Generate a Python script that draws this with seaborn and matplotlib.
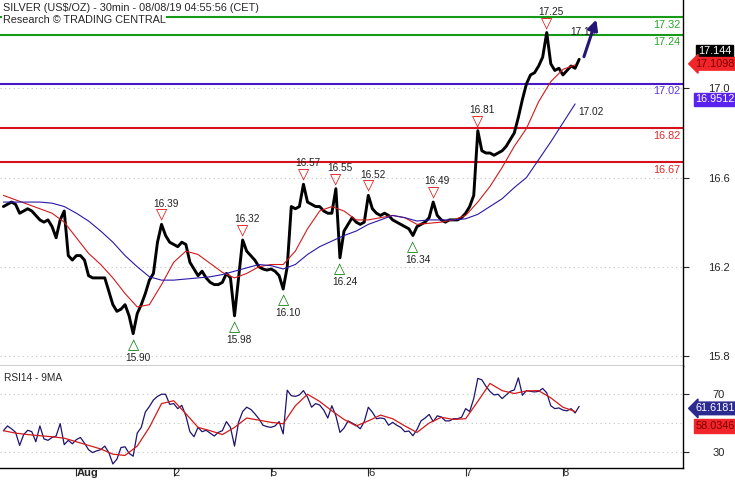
import numpy as np
import matplotlib.pyplot as plt
import seaborn as sns

sns.set_style("white")
plt.rcParams['font.family'] = ['Liberation Sans', 'DejaVu Sans']

# =====================================================
# DATA (30min silver)
# =====================================================
# closes, one value per hour (x in trading days, Aug 1 = 0)
close = [16.47, 16.48, 16.49, 16.48, 16.44, 16.45, 16.46, 16.45, 16.43, 16.41,
         16.40, 16.41, 16.38, 16.33, 16.41, 16.45, 16.25, 16.23, 16.25, 16.25,
         16.23, 16.16, 16.15, 16.15, 16.15, 16.15, 16.09, 16.03, 16.00, 16.01,
         16.03, 15.98, 15.90, 15.99, 16.03, 16.08, 16.14, 16.17, 16.31, 16.39,
         16.34, 16.31, 16.30, 16.29, 16.31, 16.30, 16.22, 16.19, 16.16, 16.18,
         16.15, 16.13, 16.12, 16.12, 16.13, 16.17, 16.15, 15.98, 16.15, 16.32,
         16.27, 16.25, 16.23, 16.20, 16.19, 16.185, 16.19, 16.18, 16.16, 16.10,
         16.20, 16.47, 16.46, 16.47, 16.57, 16.49, 16.48, 16.47, 16.47, 16.45,
         16.44, 16.44, 16.55, 16.24, 16.36, 16.39, 16.42, 16.40, 16.39, 16.40,
         16.52, 16.46, 16.44, 16.43, 16.44, 16.43, 16.41, 16.40, 16.39, 16.38,
         16.37, 16.34, 16.38, 16.39, 16.40, 16.42, 16.49, 16.43, 16.41, 16.40,
         16.41, 16.41, 16.41, 16.42, 16.44, 16.47, 16.52, 16.81, 16.72, 16.71,
         16.71, 16.70, 16.71, 16.72, 16.74, 16.77, 16.80, 16.87, 16.95, 17.02,
         17.06, 17.07, 17.10, 17.14, 17.25, 17.11, 17.08, 17.09, 17.06, 17.08,
         17.10, 17.09, 17.13]

rsi = [44.7, 48, 46, 43.6, 34.5, 42, 45, 44, 37, 48,
       39, 38, 40, 41, 49.6, 35, 38, 35.6, 38.5, 40,
       36, 31.5, 29.5, 30.7, 31.5, 34, 29.5, 21.6, 25, 33,
       33.5, 29, 27, 43, 47, 57.6, 61.5, 66, 68.5, 70,
       70, 63, 63.5, 60, 62.3, 55, 44, 40.5, 47, 44,
       45, 43, 41, 43.5, 44.7, 51, 47, 34, 50.6, 58,
       61, 59.5, 56.5, 53, 48.5, 47.5, 47, 48, 51, 42.5,
       72.8, 69, 68.5, 69.5, 72.5, 68, 61, 63.5, 62.5, 59,
       53.5, 62, 55, 43.5, 46.5, 51.5, 50, 48.5, 46, 51,
       61, 57.5, 53, 53.5, 53, 48.5, 50.5, 48.5, 47, 44,
       44.5, 41.2, 45.5, 51.5, 53.5, 56, 51, 55, 54.2, 51.5,
       51.5, 53, 53, 54, 60, 58, 67, 81, 80, 75.5,
       72, 69.5, 70, 67, 69.5, 72, 73, 81.4, 69.3, 72.5,
       72, 71.6, 72, 74, 71, 62, 60, 60.5, 59, 58.5,
       60, 57, 61.6]

# moving averages, one value per 3 hours
ma_fast = [16.52, 16.50, 16.48, 16.46, 16.44, 16.40, 16.33, 16.26, 16.21, 16.15,
           16.08, 16.02, 16.03, 16.12, 16.22, 16.27, 16.255, 16.215, 16.175, 16.15,
           16.17, 16.20, 16.21, 16.21, 16.27, 16.37, 16.45, 16.47, 16.45, 16.41,
           16.41, 16.42, 16.43, 16.42, 16.39, 16.395, 16.40, 16.41, 16.43, 16.49,
           16.56, 16.645, 16.74, 16.82, 16.94, 17.03, 17.085, 17.105]
ma_slow = [16.49, 16.49, 16.49, 16.49, 16.485, 16.47, 16.44, 16.405, 16.36, 16.31,
           16.25, 16.20, 16.155, 16.14, 16.14, 16.145, 16.15, 16.155, 16.165, 16.18,
           16.195, 16.21, 16.205, 16.19, 16.21, 16.255, 16.29, 16.315, 16.34, 16.36,
           16.39, 16.41, 16.43, 16.42, 16.405, 16.41, 16.41, 16.41, 16.415, 16.435,
           16.47, 16.505, 16.555, 16.60, 16.68, 16.76, 16.845, 16.93]
rsi_ma = [44.7, 43, 42, 41.2, 40.5, 39.5, 37, 34.5, 32, 28.4,
          27.5, 34, 47, 63.5, 65.5, 56.5, 47, 44.7, 42, 47,
          53.5, 52, 50.5, 49.5, 62, 70, 65, 58.5, 52.5, 48,
          51.5, 55.5, 53, 48, 43.5, 50, 54, 52.5, 53, 65,
          77.5, 72.5, 70.5, 72.3, 72.5, 67.5, 61, 58]

# swing points (index into close)
high_idx = [39, 59, 74, 82, 90, 106, 117, 134]
low_idx = [32, 57, 69, 83, 101]

levels_res = [17.32, 17.24]
levels_pivot = [17.02]
levels_sup = [16.82, 16.67]
target = 17.32

day_labels = ['Aug', '2', '5', '6', '7', '8']
price_ticks = [15.8, 16.2, 16.6, 17.0]
rsi_ticks = [30, 70]

last_price = 17.144
last_fast = 17.1098
last_slow = 16.9512
last_rsi = 61.6181
last_rsi_ma = 58.0346

t0 = -0.75
t_close = t0 + np.arange(len(close)) / 24
t_ma = t0 + np.arange(len(ma_fast)) / 8

# =====================================================
# FIGURE
# =====================================================
fig = plt.figure(figsize=(7.35, 4.8), dpi=100)
ax = fig.add_axes([0, 0.2375, 0.9293, 0.7625])
ax2 = fig.add_axes([0, 0.025, 0.9293, 0.2125], sharex=ax)

GREEN = '#179a17'
PURPLE = '#4a17c8'
RED = '#d8101c'
NAVY = '#231677'
grid_kw = dict(color='#c4c4c4', linestyle=(0, (1, 3)), linewidth=0.8)

# ---- price panel ----
for v in price_ticks:
    ax.axhline(v, zorder=0, **grid_kw)
sns.lineplot(x=t_close, y=close, ax=ax, color='black', linewidth=2.1, zorder=3)
sns.lineplot(x=t_ma, y=ma_fast, ax=ax, color='#d21a1a', linewidth=0.8, zorder=4)
sns.lineplot(x=t_ma, y=ma_slow, ax=ax, color='#2a18a8', linewidth=0.8, zorder=4)

for lv, col, tcol in ([(v, GREEN, '#2aa52a') for v in levels_res]
                      + [(v, PURPLE, '#5a35d8') for v in levels_pivot]
                      + [(v, RED, '#e02a2a') for v in levels_sup]):
    ax.axhline(lv, color=col, linewidth=1.5, zorder=2)
    ax.annotate(f'{lv:.2f}', xy=(1, lv), xycoords=('axes fraction', 'data'),
                xytext=(-2, -5.5), textcoords='offset points', ha='right',
                va='center', color=tcol, fontsize=7.8)

for i in high_idx:
    ax.annotate('\u25bd', (t_close[i], close[i]), xytext=(0, 6.5), textcoords='offset points',
                ha='center', va='center', color='#e01010', fontsize=10.5, family='DejaVu Sans', zorder=6)
    ax.annotate(f'{close[i]:.2f}', (t_close[i], close[i]), xytext=(3, 15), textcoords='offset points',
                ha='center', va='center', fontsize=7.3, color='#222222', zorder=6)
for i in low_idx:
    ax.annotate('\u25b3', (t_close[i], close[i]), xytext=(0, -8), textcoords='offset points',
                ha='center', va='center', color='#108010', fontsize=10.5, family='DejaVu Sans', zorder=6)
    ax.annotate(f'{close[i]:.2f}', (t_close[i], close[i]), xytext=(3.5, -17.5), textcoords='offset points',
                ha='center', va='center', fontsize=7.3, color='#222222', zorder=6)

# projection arrow to target
ax.annotate(f'{close[-1]:.2f}', (t_close[-1], close[-1]), xytext=(3, 19.5), textcoords='offset points',
            ha='center', va='center', fontsize=7.3, color='#222222', zorder=6)
ax.annotate('', xy=(t_close[-1] + 0.185, target), xytext=(t_close[-1] + 0.04, close[-1]),
            arrowprops=dict(arrowstyle='-|>', color=NAVY, lw=2.2, mutation_scale=15), zorder=7)
ax.annotate(f'{levels_pivot[0]:.2f}', (t_ma[-1], ma_slow[-1]), xytext=(2, -5.5), textcoords='offset points',
            ha='left', va='center', fontsize=7.3, color='#222222')

ax.text(0.004, 0.978, 'SILVER (US$/OZ) - 30min - 08/08/19 04:55:56 (CET)', transform=ax.transAxes,
        fontsize=7.8, va='center', ha='left', zorder=8)
ax.text(0.004, 0.945, 'Research \u00a9 TRADING CENTRAL', transform=ax.transAxes, fontsize=7.8,
        va='center', ha='left', zorder=8,
        bbox=dict(facecolor='white', edgecolor='none', pad=0.6))

ax.set_ylim(15.755, 17.396)
ax.set_xlim(-0.785, 6.234)
ax.yaxis.tick_right()
ax.set_yticks(price_ticks)
ax.set_yticklabels([f'{v:.1f}' for v in price_ticks])
ax.tick_params(axis='y', direction='out', length=4, pad=14, labelsize=8, right=True, left=False)
ax.tick_params(axis='x', bottom=False, labelbottom=False)
for s in ['left', 'top']:
    ax.spines[s].set_visible(False)
for s in ['right', 'bottom']:
    ax.spines[s].set_color('black')
    ax.spines[s].set_linewidth(1)
ax.set_xlabel('')
ax.set_ylabel('')

# value boxes on the price scale
box_kw = dict(xycoords=('axes fraction', 'data'), textcoords='offset points', ha='center',
              va='center', fontsize=7.8, annotation_clip=False)
ax.annotate(f'{last_price}', xy=(1, last_price), xytext=(22.5, 3.5), color='white',
            bbox=dict(boxstyle='square,pad=0.15', fc='black', ec='black'), **box_kw)
ax.annotate(f'{last_fast}', xy=(1, last_fast), xytext=(23, 0), color='#7a0000',
            bbox=dict(boxstyle='larrow,pad=0.12', fc='#f2262a', ec='#f2262a'), **box_kw)
ax.annotate(f'{last_slow}', xy=(1, last_slow), xytext=(23, 0), color='white',
            bbox=dict(boxstyle='square,pad=0.15', fc='#5a22ee', ec='#5a22ee'), **box_kw)

# ---- RSI panel ----
for v in [30, 50, 70]:
    ax2.axhline(v, zorder=0, **grid_kw)
sns.lineplot(x=t_close, y=rsi, ax=ax2, color='#1e1470', linewidth=0.9, zorder=3)
sns.lineplot(x=t_ma, y=rsi_ma, ax=ax2, color='#d21a1a', linewidth=0.9, zorder=4)
ax2.text(0.006, 0.88, 'RSI14 - 9MA', transform=ax2.transAxes, fontsize=7.3, va='center', ha='left')

ax2.set_ylim(18.8, 89.6)
ax2.yaxis.tick_right()
ax2.set_yticks(rsi_ticks)
ax2.set_yticklabels([str(v) for v in rsi_ticks])
ax2.tick_params(axis='y', direction='out', length=4, pad=17, labelsize=8, right=True, left=False)
ax2.set_xticks(range(len(day_labels)))
ax2.set_xticklabels(day_labels)
ax2.tick_params(axis='x', direction='out', length=6, pad=-6, labelsize=8, bottom=True)
for lab in ax2.get_xticklabels():
    lab.set_horizontalalignment('left')
ax2.get_xticklabels()[0].set_fontweight('bold')
for s in ['left', 'top']:
    ax2.spines[s].set_visible(False)
for s in ['right', 'bottom']:
    ax2.spines[s].set_color('black')
    ax2.spines[s].set_linewidth(1)
ax2.set_xlabel('')
ax2.set_ylabel('')

ax2.annotate(f'{last_rsi}', xy=(1, last_rsi), xytext=(23, -1.5), color='white',
             bbox=dict(boxstyle='larrow,pad=0.12', fc='#2c2a90', ec='#2c2a90'), **box_kw)
ax2.annotate(f'{last_rsi_ma}', xy=(1, last_rsi_ma), xytext=(23, -10.5), color='#7a0000',
             bbox=dict(boxstyle='square,pad=0.15', fc='#f2262a', ec='#f2262a'), **box_kw)

fig.savefig('out.png', dpi=100)
